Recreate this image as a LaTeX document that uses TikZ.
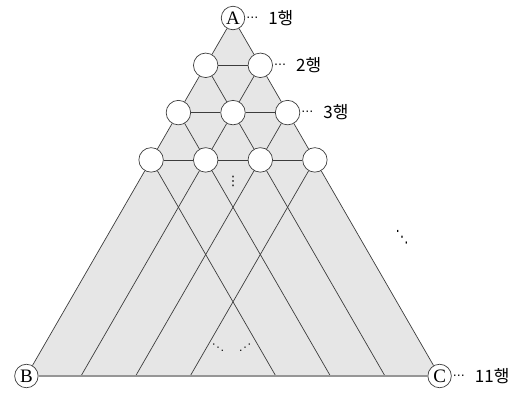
\documentclass[tikz,border=0pt]{standalone}
\usepackage{fontspec}
\usepackage{graphicx}
\setmainfont{Liberation Serif}
\newfontfamily\kr{Noto Sans CJK KR}
\newfontfamily\dv{DejaVu Sans}
\definecolor{trifill}{RGB}{230,230,230}
\definecolor{linec}{RGB}{60,60,60}
\definecolor{basec}{RGB}{150,150,150}
\newcommand\rowdots{\raisebox{3pt}{\dv\fontsize{12}{12}\selectfont ⋯}}
\begin{document}
\begin{tikzpicture}[x=1pt,y=-1pt,
  lat/.style={draw=linec, line width=0.7pt},
  base/.style={draw=basec, line width=1.8pt},
  spot/.style={circle, draw=linec, line width=0.7pt, fill=white, minimum size=24.5pt, inner sep=0pt},
  corner/.style={spot, minimum size=23.5pt, font=\fontsize{19}{19}\selectfont},
  rowlab/.style={anchor=west, inner sep=0pt, font=\kr\fontsize{17}{17}\selectfont},
  dotsmark/.style={inner sep=0pt, font=\dv\fontsize{13}{13}\selectfont}]
\useasboundingbox (0,0) rectangle (530,392);
% bottom ends of the lattice lines
\coordinate (cB) at (26.4,376);
\coordinate (cC) at (439.6,376);
\coordinate (cA) at (233,18);
\coordinate (q1) at (81.0,376);
\coordinate (q2) at (135.6,376);
\coordinate (q3) at (190.2,376);
\coordinate (r3) at (275.8,376);
\coordinate (r2) at (330.4,376);
\coordinate (r1) at (385.0,376);
\fill[trifill] (cA) -- (cB) -- (cC) -- cycle;
% circles
\node[corner] (A) at (cA) {A};
\node[corner] (B) at (cB) {B};
\node[corner] (C) at (cC) {C};
\node[spot] (p21) at (205.7,65.3) {};
\node[spot] (p22) at (260.3,65.3) {};
\node[spot] (p31) at (178.4,112.6) {};
\node[spot] (p32) at (233.0,112.6) {};
\node[spot] (p33) at (287.6,112.6) {};
\node[spot] (p41) at (151.1,159.9) {};
\node[spot] (p42) at (205.7,159.9) {};
\node[spot] (p43) at (260.3,159.9) {};
\node[spot] (p44) at (314.9,159.9) {};
% lattice lines
\draw[lat] (A) -- (p21) -- (p31) -- (p41) -- (B);
\draw[lat] (A) -- (p22) -- (p33) -- (p44) -- (C);
\draw[lat] (p22) -- (p32) -- (p42) -- (q1);
\draw[lat] (p33) -- (p43) -- (q2);
\draw[lat] (p44) -- (q3);
\draw[lat] (p21) -- (p32) -- (p43) -- (r1);
\draw[lat] (p31) -- (p42) -- (r2);
\draw[lat] (p41) -- (r3);
\draw[lat] (p21) -- (p22);
\draw[lat] (p31) -- (p32) -- (p33);
\draw[lat] (p41) -- (p42) -- (p43) -- (p44);
\draw[base] (B) -- (C);
% row labels
\node[rowlab] (l1) at ([xshift=1pt]A.east) {\rowdots\hspace{10pt}1행};
\node[rowlab] (l2) at ([xshift=1pt]p22.east) {\rowdots\hspace{10pt}2행};
\node[rowlab] (l3) at ([xshift=1pt]p33.east) {\rowdots\hspace{10pt}3행};
\node[rowlab] (l11) at ([xshift=1pt]C.east) {\rowdots\hspace{10pt}11행};
% ellipses
\node[dotsmark] (d1) at (233,181) {⋮};
\node[dotsmark] (d2) at (402,237) {\scalebox{1}[1.3]{⋱}};
\node[dotsmark] (d3) at (218,348) {\scalebox{1}[0.7]{⋱}};
\node[dotsmark] (d4) at (245,348) {\scalebox{1}[0.7]{⋰}};
\end{tikzpicture}
\end{document}
